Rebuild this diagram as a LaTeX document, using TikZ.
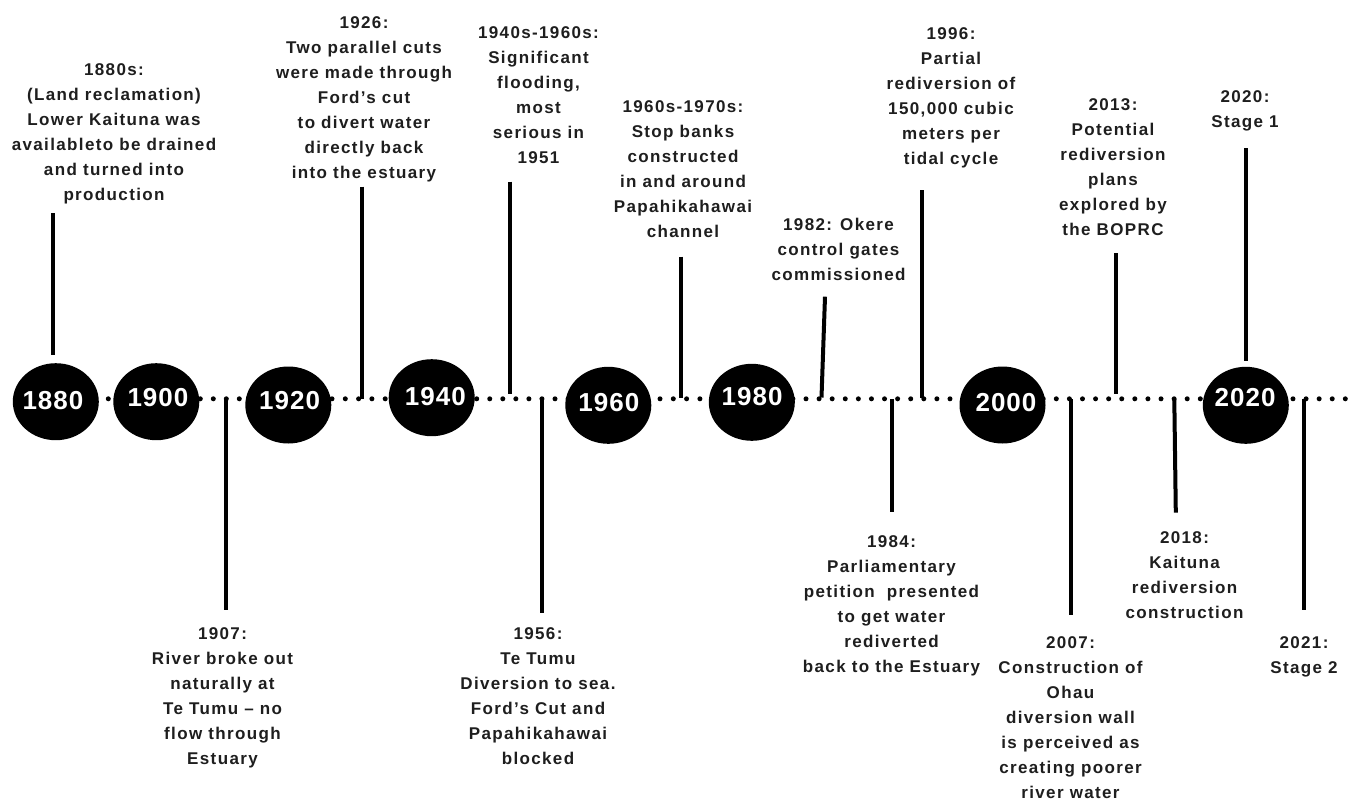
\documentclass[tikz,border=0pt]{standalone}
\usepackage{fontspec}
\setmainfont{Liberation Sans}
\newfontfamily\evtfont[LetterSpace=8]{Liberation Sans}
\newfontfamily\yrfont[LetterSpace=4]{Liberation Sans}
\usetikzlibrary{shapes.geometric}
\definecolor{ink}{HTML}{1E1E1E}
\tikzset{
  yearcirc/.style={ellipse, fill=black, draw=none, minimum width=86pt, minimum height=77pt, inner sep=0pt},
  yearlbl/.style={text=white, inner sep=0pt, font=\yrfont\bfseries\fontsize{26}{30}\selectfont},
  evt/.style={anchor=north, align=center, inner sep=0pt, text=ink, font=\evtfont\bfseries\fontsize{17}{25}\selectfont},
  stem/.style={line width=4pt, black},
  dotseg/.style={line width=5pt, line cap=round, black, dash pattern=on 0pt off #1}
}
\begin{document}
\begin{tikzpicture}[x=1pt,y=-1pt]
\fill[white] (0,0) rectangle (1357,801);
\useasboundingbox (0,0) rectangle (1357,801);

% axis dot segments
\coordinate (d1a) at (95,398.8);    \coordinate (d1b) at (121.9,398.8);
\coordinate (d2a) at (200.3,398.8); \coordinate (d2b) at (252.6,398.8);
\coordinate (d3a) at (332,398.8);   \coordinate (d3b) at (398.8,398.8);
\coordinate (d4a) at (463.65,398.8);\coordinate (d4b) at (568.4,398.8);
\coordinate (d5a) at (646.7,398.8); \coordinate (d5b) at (713.5,398.8);
\coordinate (d6a) at (792.9,398.8); \coordinate (d6b) at (963.4,398.8);
\coordinate (d7a) at (1043.2,398.8);\coordinate (d7b) at (1213.7,398.8);
\coordinate (d8a) at (1279.9,398.8);\coordinate (d8b) at (1345.6,398.8);
\draw[dotseg=13.3pt] (d1a) -- (d1b);
\draw[dotseg=13pt] (d2a) -- (d2b);
\draw[dotseg=13.3pt] (d3a) -- (d3b);
\draw[dotseg=13.05pt] (d4a) -- (d4b);
\draw[dotseg=13.3pt] (d5a) -- (d5b);
\draw[dotseg=13.09pt] (d6a) -- (d6b);
\draw[dotseg=13.09pt] (d7a) -- (d7b);
\draw[dotseg=13.08pt] (d8a) -- (d8b);

% year circles
\node[yearcirc] (c1880) at (55.8,401.7) {};
\node[yearcirc] (c1900) at (156.3,401.7) {};
\node[yearcirc] (c1920) at (288.3,405) {};
\node[yearcirc] (c1940) at (431.7,397.7) {};
\node[yearcirc] (c1960) at (608.3,405.3) {};
\node[yearcirc] (c1980) at (751.8,402.3) {};
\node[yearcirc] (c2000) at (1002.5,405) {};
\node[yearcirc] (c2020) at (1245.8,405.3) {};
\node[yearlbl] (y1880) at (53,400.3) {1880};
\node[yearlbl] (y1900) at (158,397.5) {1900};
\node[yearlbl] (y1920) at (289.6,400.8) {1920};
\node[yearlbl] (y1940) at (435.4,396.5) {1940};
\node[yearlbl] (y1960) at (608.8,403) {1960};
\node[yearlbl] (y1980) at (752.2,396.8) {1980};
\node[yearlbl] (y2000) at (1006,403) {2000};
\node[yearlbl] (y2020) at (1245.2,398) {2020};

% events above
\node[evt] (e1880) at (114,63.8) {1880s:\\(Land reclamation)\\Lower Kaituna was\\availableto be drained\\and turned into\\production};
\node[evt] (e1926) at (364,16.5) {1926:\\Two parallel cuts\\were made through\\Ford’s cut\\to divert water\\directly back\\into the estuary};
\node[evt] (e1940) at (538.5,26.9) {1940s-1960s:\\Significant\\flooding,\\most\\serious in\\1951};
\node[evt] (e1960) at (683,100) {1960s-1970s:\\Stop banks\\constructed\\in and around\\Papahikahawai\\channel};
\node[evt] (e1982) at (838.5,217.9) {1982: Okere\\control gates\\commissioned};
\node[evt] (e1996) at (951,27.9) {1996:\\Partial\\rediversion of\\150,000 cubic\\meters per\\tidal cycle};
\node[evt] (e2013) at (1113,98.9) {2013:\\Potential\\rediversion\\plans\\explored by\\the BOPRC};
\node[evt] (e2020) at (1245,90.9) {2020:\\Stage 1};

% events below
\node[evt] (e1907) at (222.5,627.9) {1907:\\River broke out\\naturally at\\Te Tumu – no\\flow through\\Estuary};
\node[evt] (e1956) at (538,627.9) {1956:\\Te Tumu\\Diversion to sea.\\Ford’s Cut and\\Papahikahawai\\blocked};
\node[evt] (e1984) at (891.5,535.6) {1984:\\Parliamentary\\petition~ presented\\to get water\\rediverted\\back to the Estuary};
\node[evt] (e2007) at (1070.5,636.6) {2007:\\Construction of\\Ohau\\diversion wall\\is perceived as\\creating poorer\\river water};
\node[evt] (e2018) at (1184.5,531.6) {2018:\\Kaituna\\rediversion\\construction};
\node[evt] (e2021) at (1304,636.9) {2021:\\Stage 2};

% stems
\coordinate (s1880a) at (52.7,213);   \coordinate (s1880b) at (52.7,355);
\coordinate (s1926a) at (361.5,186.5);\coordinate (s1926b) at (361.5,398.5);
\coordinate (s1940a) at (510,181.7);  \coordinate (s1940b) at (510,394);
\coordinate (s1960a) at (680.5,256.7);\coordinate (s1960b) at (680.5,397.5);
\coordinate (s1982a) at (825,296.7);  \coordinate (s1982b) at (821.5,397.5);
\coordinate (s1996a) at (922,190);    \coordinate (s1996b) at (922,397.5);
\coordinate (s2013a) at (1115.5,253.3);\coordinate (s2013b) at (1115.5,394);
\coordinate (s2020a) at (1245.7,148.3);\coordinate (s2020b) at (1245.7,360.5);
\coordinate (s1907a) at (226,399);    \coordinate (s1907b) at (226,610);
\coordinate (s1956a) at (541.5,399);  \coordinate (s1956b) at (541.5,612.7);
\coordinate (s1984a) at (891.7,399);  \coordinate (s1984b) at (891.7,511.7);
\coordinate (s2007a) at (1070.5,399); \coordinate (s2007b) at (1070.5,615);
\coordinate (s2018a) at (1174.3,399); \coordinate (s2018b) at (1175.8,512.7);
\coordinate (s2021a) at (1303.7,399); \coordinate (s2021b) at (1303.7,610);
\foreach \s in {1880,1926,1940,1960,1982,1996,2013,2020,1907,1956,1984,2007,2018,2021}
  \draw[stem] (s\s a) -- (s\s b);
\end{tikzpicture}
\end{document}
